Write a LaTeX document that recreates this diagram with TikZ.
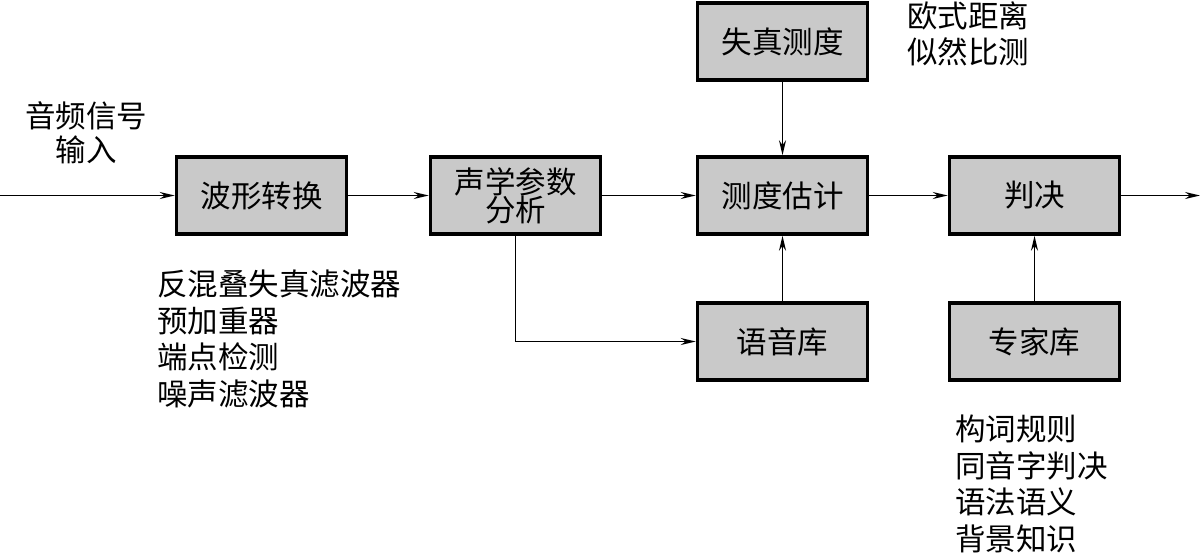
\documentclass[tikz,border=0pt]{standalone}
\usepackage{fontspec}
\setmainfont{Noto Sans CJK SC}
\usetikzlibrary{arrows.meta}

\tikzset{
  block/.style={draw, line width=3.5pt, fill=black!21, minimum width=170pt,
    minimum height=77pt, inner sep=0pt, font=\fontsize{30.5}{32}\selectfont, align=center},
  note/.style={anchor=north west, inner sep=0pt, align=left,
    font=\fontsize{30.5}{36.5}\selectfont},
  flow/.style={line width=1.6pt, -{Stealth[length=15pt,width=7pt]}}
}

\begin{document}
\begin{tikzpicture}[x=1pt,y=-1pt]
  \useasboundingbox (0,0) rectangle (1202,557);

  \node[block] (wave) at (261.5,195.5) {波形转换};
  \node[block] (acoustic) at (515.5,195.5) {声学参数\\[-4pt]分析};
  \node[block] (measure) at (782.5,195.5) {测度估计};
  \node[block] (distort) at (782.5,41.5) {失真测度};
  \node[block] (decide) at (1034.5,195.5) {判决};
  \node[block] (speech) at (782.5,341.5) {语音库};
  \node[block] (expert) at (1034.5,341.5) {专家库};

  \coordinate (in) at (0,195.5);
  \coordinate (out) at (1200,195.5);

  \draw[flow] (in) -- (wave);
  \draw[flow] (wave) -- (acoustic);
  \draw[flow] (acoustic) -- (measure);
  \draw[flow] (measure) -- (decide);
  \draw[flow] (decide) -- (out);
  \draw[flow] (distort) -- (measure);
  \draw[flow] (speech) -- (measure);
  \draw[flow] (expert) -- (decide);
  \draw[flow] (acoustic.south) |- (speech.west);

  \node[anchor=north, inner sep=0pt, align=center, font=\fontsize{30.5}{34}\selectfont]
    (inlabel) at (86,101) {音频信号\\输入};
  \node[note] (prelist) at (157,270) {反混叠失真滤波器\\预加重器\\端点检测\\噪声滤波器};
  \node[note] (distlist) at (907,1) {欧式距离\\似然比测};
  \node[note] (rulelist) at (955,415) {构词规则\\同音字判决\\语法语义\\背景知识};
\end{tikzpicture}
\end{document}
